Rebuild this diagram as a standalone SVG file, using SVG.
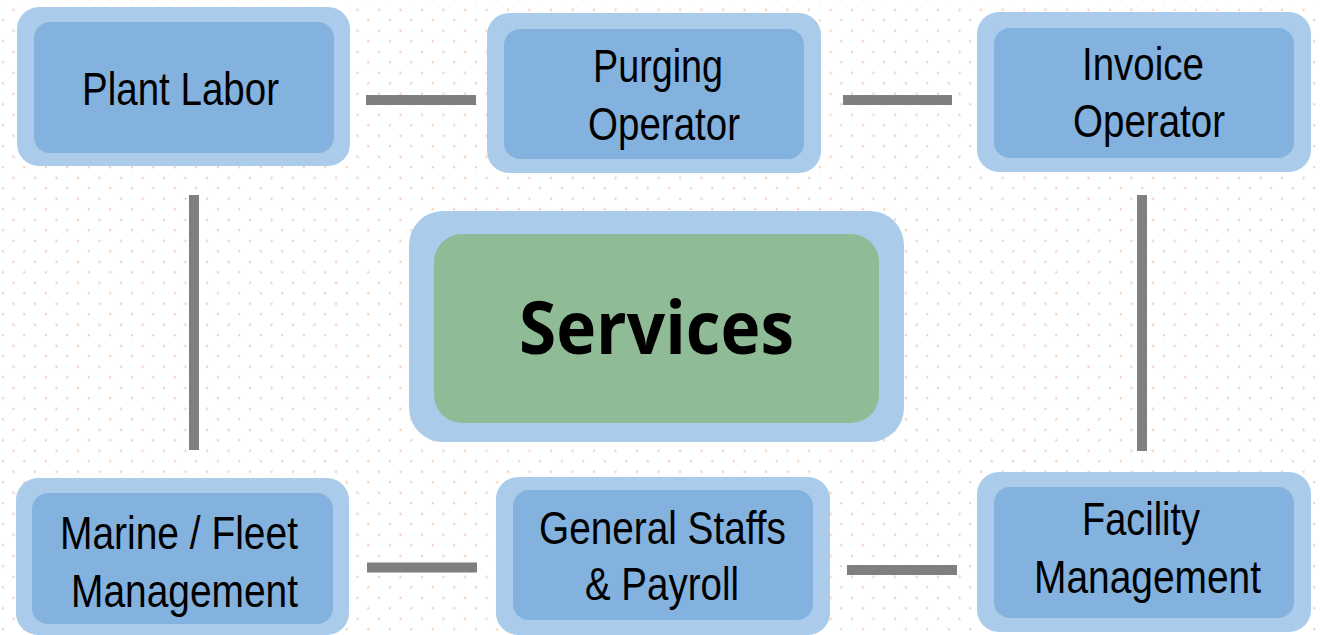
<svg xmlns="http://www.w3.org/2000/svg" width="1320" height="635" viewBox="0 0 1320 635">
  <defs>
    <pattern id="dots" x="2.8" y="20.3" width="21.5" height="21" patternUnits="userSpaceOnUse">
      <circle cx="0" cy="0" r="1.2" fill="#f9cdb0"/>
      <circle cx="21.5" cy="0" r="1.2" fill="#f9cdb0"/>
      <circle cx="0" cy="21" r="1.2" fill="#f9cdb0"/>
      <circle cx="21.5" cy="21" r="1.2" fill="#f9cdb0"/>
      <circle cx="10.75" cy="10.5" r="1.2" fill="#f9cdb0"/>
    </pattern>
  </defs>
  <style>
    .outer { fill: #abcbea; }
    .inner { fill: #83b2df; }
    .green { fill: #8fbc96; }
    .lbl { font-family: "Liberation Sans", Arial, sans-serif; font-size: 46px; fill: #000; }
    .big { font-family: "Open Sans", "Noto Sans", sans-serif; font-weight: bold; font-size: 73px; fill: #000; }
    .conn { stroke: #7f7f7f; stroke-width: 10; fill: none; }
  </style>
  <rect width="1320" height="635" fill="#ffffff"/>
  <rect width="1320" height="635" fill="url(#dots)"/>

  <g id="connectors">
    <line class="conn" x1="366" y1="100" x2="476" y2="100"/>
    <line class="conn" x1="843" y1="100" x2="952" y2="100"/>
    <line class="conn" x1="194" y1="195" x2="194" y2="450"/>
    <line class="conn" x1="1142" y1="195" x2="1142" y2="451"/>
    <line class="conn" x1="367" y1="567.5" x2="477" y2="567.5"/>
    <line class="conn" x1="847" y1="570" x2="957" y2="570"/>
  </g>

  <g id="plant-labor">
    <rect class="outer" x="17" y="7" width="333" height="159" rx="22"/>
    <rect class="inner" x="34" y="22" width="300" height="131" rx="16"/>
    <text class="lbl" x="82" y="105" textLength="197" lengthAdjust="spacingAndGlyphs">Plant Labor</text>
  </g>

  <g id="purging-operator">
    <rect class="outer" x="487" y="13" width="334" height="160" rx="22"/>
    <rect class="inner" x="504" y="29" width="300" height="130" rx="16"/>
    <text class="lbl" x="593" y="82" textLength="130" lengthAdjust="spacingAndGlyphs">Purging</text>
    <text class="lbl" x="588" y="140" textLength="152" lengthAdjust="spacingAndGlyphs">Operator</text>
  </g>

  <g id="invoice-operator">
    <rect class="outer" x="977" y="12" width="334" height="160" rx="22"/>
    <rect class="inner" x="994" y="28" width="300" height="130" rx="16"/>
    <text class="lbl" x="1082" y="80" textLength="122" lengthAdjust="spacingAndGlyphs">Invoice</text>
    <text class="lbl" x="1073" y="137" textLength="152" lengthAdjust="spacingAndGlyphs">Operator</text>
  </g>

  <g id="services">
    <rect class="outer" x="409" y="211" width="495" height="231" rx="34"/>
    <rect class="green" x="434" y="234" width="445" height="189" rx="28"/>
    <text class="big" x="519" y="354" textLength="275" lengthAdjust="spacingAndGlyphs">Services</text>
  </g>

  <g id="marine-fleet">
    <rect class="outer" x="16" y="478" width="333" height="157" rx="22"/>
    <rect class="inner" x="32" y="493" width="301" height="131" rx="16"/>
    <text class="lbl" x="60" y="549" textLength="238" lengthAdjust="spacingAndGlyphs">Marine / Fleet</text>
    <text class="lbl" x="71" y="607" textLength="227" lengthAdjust="spacingAndGlyphs">Management</text>
  </g>

  <g id="general-staffs">
    <rect class="outer" x="496" y="477" width="334" height="158" rx="22"/>
    <rect class="inner" x="513" y="490" width="300" height="130" rx="16"/>
    <text class="lbl" x="539" y="544" textLength="247" lengthAdjust="spacingAndGlyphs">General Staffs</text>
    <text class="lbl" x="585" y="600" textLength="154" lengthAdjust="spacingAndGlyphs">&amp; Payroll</text>
  </g>

  <g id="facility-management">
    <rect class="outer" x="977" y="472" width="334" height="160" rx="22"/>
    <rect class="inner" x="994" y="487" width="300" height="131" rx="16"/>
    <text class="lbl" x="1082" y="535" textLength="118" lengthAdjust="spacingAndGlyphs">Facility</text>
    <text class="lbl" x="1034" y="593" textLength="227" lengthAdjust="spacingAndGlyphs">Management</text>
  </g>
</svg>
